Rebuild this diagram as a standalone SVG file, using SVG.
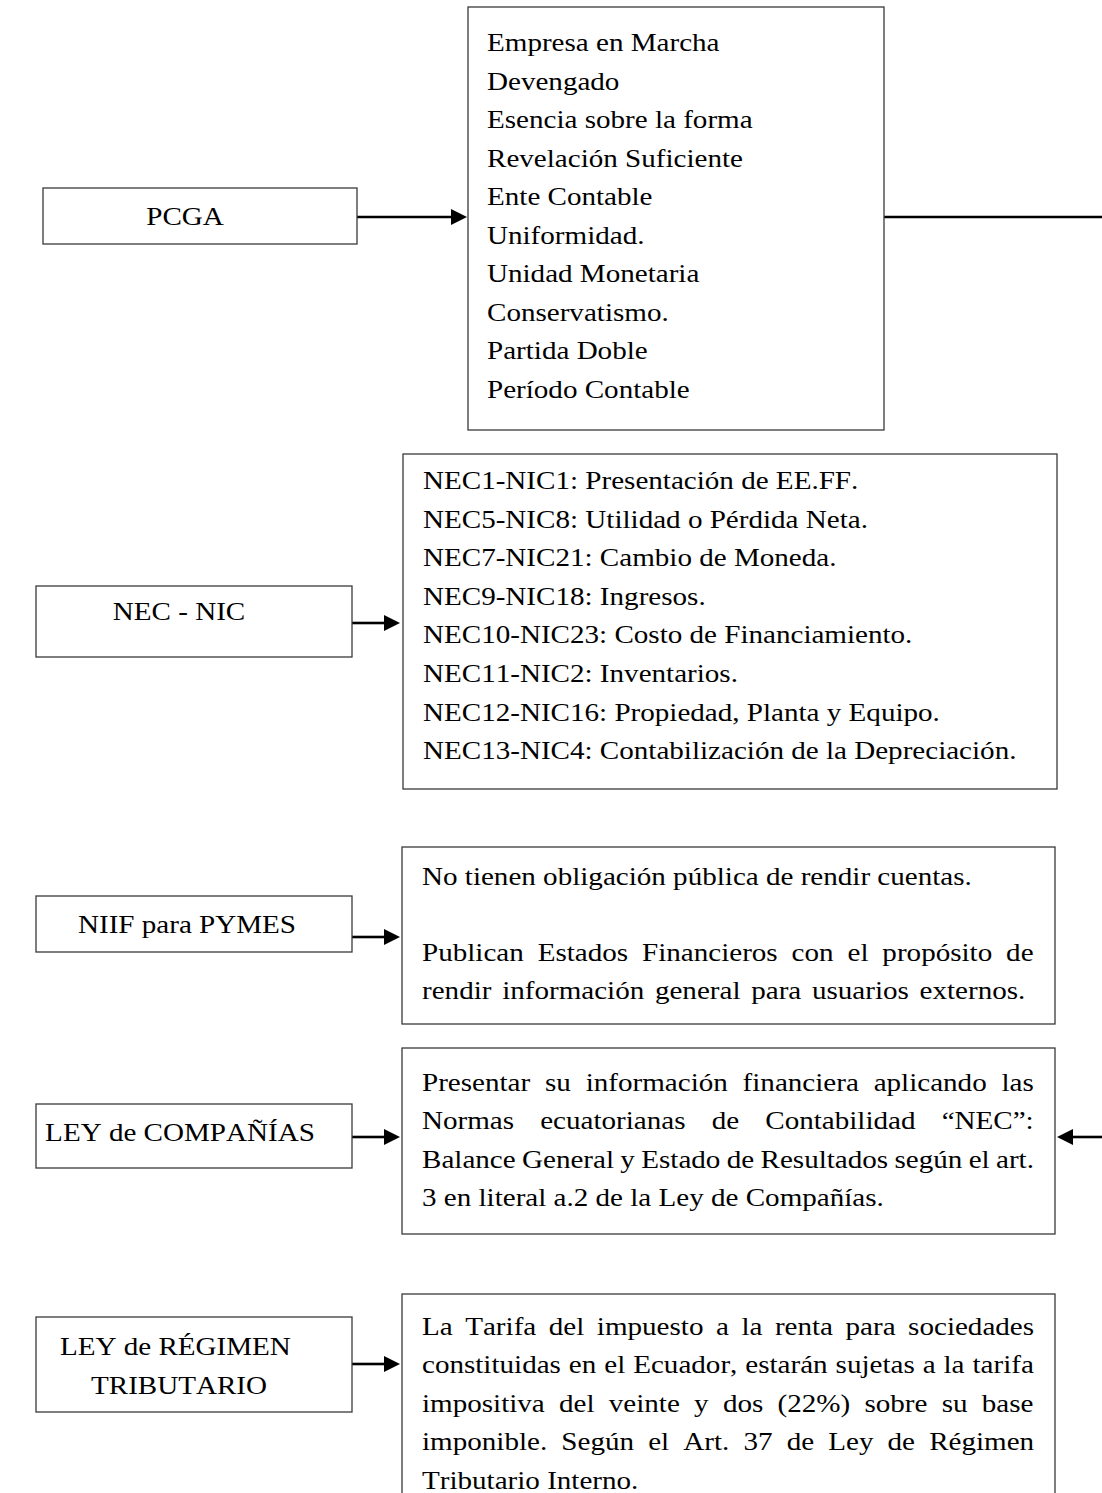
<svg xmlns="http://www.w3.org/2000/svg" width="1102" height="1493" viewBox="0 0 1102 1493">
<style>
.t { font-family: "Liberation Serif", "Times New Roman", serif; font-size: 25.4px; fill: #000; font-kerning: none; }
.box { fill: #fff; stroke: #3a3a3a; stroke-width: 1.3; }
.conn { stroke: #000; stroke-width: 2.6; fill: none; }
</style>
<defs>
<marker id="ah" markerUnits="userSpaceOnUse" markerWidth="16" markerHeight="16" refX="0" refY="8" orient="auto"><path d="M0,0 L16,8 L0,16 z" fill="#000"/></marker>
</defs>
<rect width="1102" height="1493" fill="#fff"/>

<g id="connectors">
<line class="conn" x1="357" y1="217" x2="451" y2="217" marker-end="url(#ah)"/>
<line class="conn" x1="884" y1="217" x2="1102" y2="217"/>
<line class="conn" x1="352" y1="623" x2="384" y2="623" marker-end="url(#ah)"/>
<line class="conn" x1="352" y1="937" x2="384" y2="937" marker-end="url(#ah)"/>
<line class="conn" x1="352" y1="1137" x2="384" y2="1137" marker-end="url(#ah)"/>
<line class="conn" x1="1102" y1="1137" x2="1073" y2="1137" marker-end="url(#ah)"/>
<line class="conn" x1="352" y1="1364" x2="384" y2="1364" marker-end="url(#ah)"/>
</g>

<g id="pcga">
<rect class="box" x="43" y="188" width="314" height="56"/>
<text class="t" text-anchor="middle" transform="translate(185 0) scale(1.145 1)" x="0" y="225">PCGA</text>
</g>

<g id="principios">
<rect class="box" x="468" y="7" width="416" height="423"/>
<text class="t" transform="translate(487 0) scale(1.145 1)">
<tspan x="0" y="51">Empresa en Marcha</tspan>
<tspan x="0" y="89.6">Devengado</tspan>
<tspan x="0" y="128.1">Esencia sobre la forma</tspan>
<tspan x="0" y="166.7">Revelación Suficiente</tspan>
<tspan x="0" y="205.2">Ente Contable</tspan>
<tspan x="0" y="243.8">Uniformidad.</tspan>
<tspan x="0" y="282.4">Unidad Monetaria</tspan>
<tspan x="0" y="320.9">Conservatismo.</tspan>
<tspan x="0" y="359.5">Partida Doble</tspan>
<tspan x="0" y="398">Período Contable</tspan>
</text>
</g>

<g id="nec-nic">
<rect class="box" x="36" y="586" width="316" height="71"/>
<text class="t" text-anchor="middle" transform="translate(179 0) scale(1.145 1)" x="0" y="620">NEC - NIC</text>
</g>

<g id="normas">
<rect class="box" x="403" y="454" width="654" height="335"/>
<text class="t" transform="translate(423 0) scale(1.145 1)">
<tspan x="0" y="489">NEC1-NIC1: Presentación de EE.FF.</tspan>
<tspan x="0" y="527.6">NEC5-NIC8: Utilidad o Pérdida Neta.</tspan>
<tspan x="0" y="566.2">NEC7-NIC21: Cambio de Moneda.</tspan>
<tspan x="0" y="604.8">NEC9-NIC18: Ingresos.</tspan>
<tspan x="0" y="643.4">NEC10-NIC23: Costo de Financiamiento.</tspan>
<tspan x="0" y="682">NEC11-NIC2: Inventarios.</tspan>
<tspan x="0" y="720.6">NEC12-NIC16: Propiedad, Planta y Equipo.</tspan>
<tspan x="0" y="759.2">NEC13-NIC4: Contabilización de la Depreciación.</tspan>
</text>
</g>

<g id="niif">
<rect class="box" x="36" y="896" width="316" height="56"/>
<text class="t" text-anchor="middle" transform="translate(187 0) scale(1.145 1)" x="0" y="933">NIIF para PYMES</text>
</g>

<g id="niif-texto">
<rect class="box" x="402" y="847" width="653" height="177"/>
<text class="t" transform="translate(422 0) scale(1.145 1)">
<tspan x="0" y="885">No tienen obligación pública de rendir cuentas.</tspan>
<tspan x="0" y="961" word-spacing="5.8">Publican Estados Financieros con el propósito de</tspan>
<tspan x="0" y="999.5" word-spacing="3">rendir información general para usuarios externos.</tspan>
</text>
</g>

<g id="ley-companias">
<rect class="box" x="36" y="1104" width="316" height="64"/>
<text class="t" text-anchor="middle" transform="translate(180 0) scale(1.145 1)" x="0" y="1141">LEY de COMPAÑÍAS</text>
</g>

<g id="ley-companias-texto">
<rect class="box" x="402" y="1048" width="653" height="186"/>
<text class="t" transform="translate(422 0) scale(1.145 1)">
<tspan x="0" y="1091" word-spacing="6.6">Presentar su información financiera aplicando las</tspan>
<tspan x="0" y="1129" word-spacing="16.5">Normas ecuatorianas de Contabilidad “NEC”:</tspan>
<tspan x="0" y="1168" word-spacing="-0.8">Balance General y Estado de Resultados según el art.</tspan>
<tspan x="0" y="1206">3 en literal a.2 de la Ley de Compañías.</tspan>
</text>
</g>

<g id="ley-regimen">
<rect class="box" x="36" y="1317" width="316" height="95"/>
<text class="t" text-anchor="middle" transform="translate(179 0) scale(1.145 1)">
<tspan x="0" y="1355">LEY de RÉGIMEN</tspan>
<tspan x="0" y="1394">TRIBUTARIO</tspan>
</text>
</g>

<g id="ley-regimen-texto">
<rect class="box" x="402" y="1294" width="653" height="230"/>
<text class="t" transform="translate(422 0) scale(1.145 1)">
<tspan x="0" y="1335" word-spacing="4.6">La Tarifa del impuesto a la renta para sociedades</tspan>
<tspan x="0" y="1373" word-spacing="0.6">constituidas en el Ecuador, estarán sujetas a la tarifa</tspan>
<tspan x="0" y="1412" word-spacing="6.1">impositiva del veinte y dos (22%) sobre su base</tspan>
<tspan x="0" y="1450" word-spacing="6.0">imponible. Según el Art. 37 de Ley de Régimen</tspan>
<tspan x="0" y="1489">Tributario Interno.</tspan>
</text>
</g>
</svg>
